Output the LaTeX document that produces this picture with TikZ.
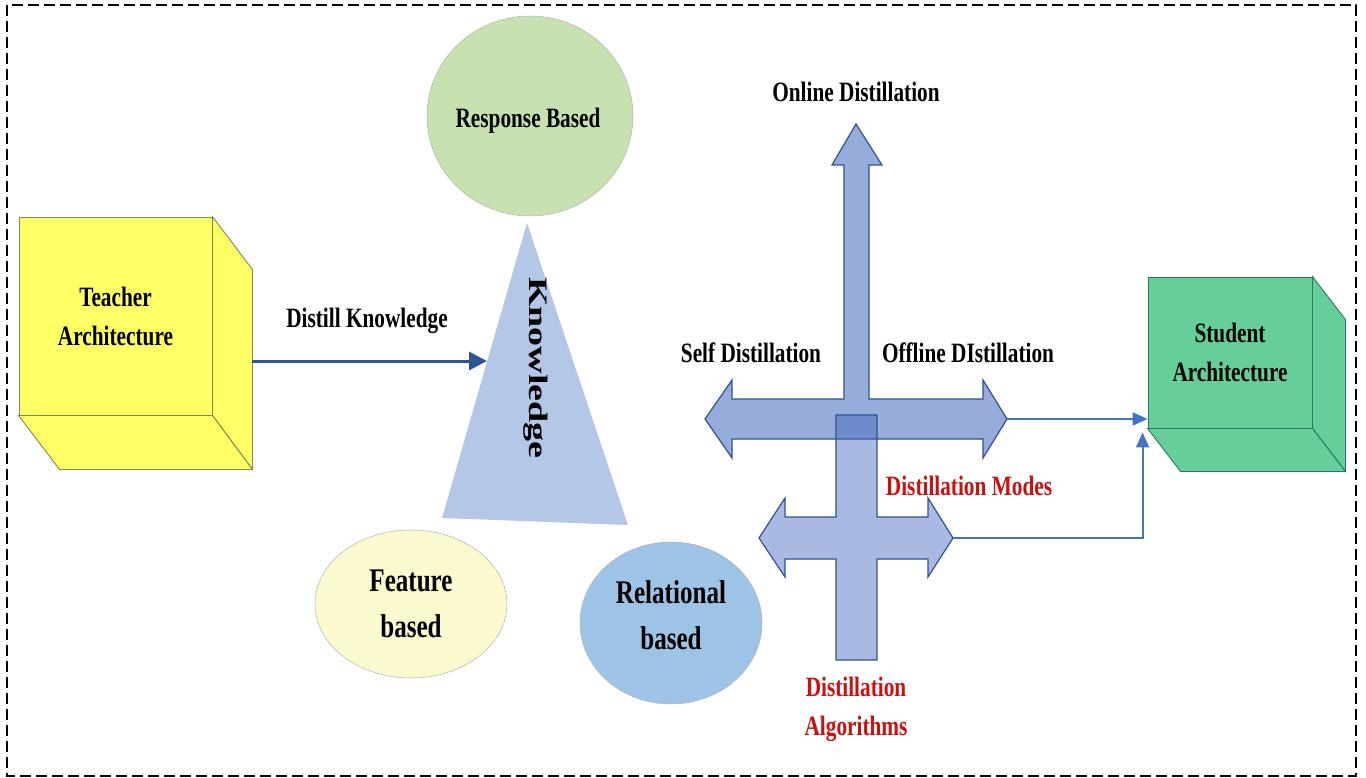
\documentclass[tikz,border=0pt]{standalone}
\usepackage{fontspec}
\setmainfont{Liberation Serif}[FakeStretch=0.76]
\newfontfamily\kfont{Liberation Serif}
\usetikzlibrary{arrows.meta,shapes.geometric}
\definecolor{tyellow}{RGB}{255,255,102}
\definecolor{tyedge}{RGB}{120,140,80}
\definecolor{sgreen}{RGB}{102,206,153}
\definecolor{sgedge}{RGB}{40,120,100}
\definecolor{respg}{RGB}{199,226,176}
\definecolor{featy}{RGB}{250,250,206}
\definecolor{relb}{RGB}{157,195,230}
\definecolor{trib}{RGB}{180,199,231}
\definecolor{crossA}{RGB}{150,172,218}
\definecolor{crossB}{RGB}{66,99,188}
\definecolor{crossedge}{RGB}{47,82,143}
\definecolor{darrow}{RGB}{47,85,151}
\definecolor{conncol}{RGB}{68,114,196}
\definecolor{dred}{RGB}{204,16,16}
\tikzset{
  lbl/.style={font=\bfseries\fontsize{28}{39}\selectfont, align=center, inner sep=0pt},
  biglbl/.style={font=\bfseries\fontsize{33}{46}\selectfont, align=center, inner sep=0pt},
  redlbl/.style={lbl, text=dred},
  cubeY/.style={draw=tyedge, fill=tyellow, line width=0.9pt, lbl},
  cubeYface/.style={draw=tyedge, fill=tyellow, line width=0.9pt},
  cubeG/.style={draw=sgedge, fill=sgreen, line width=0.9pt, lbl},
  cubeGface/.style={draw=sgedge, fill=sgreen, line width=0.9pt},
  blob/.style={ellipse, inner sep=0pt, draw=gray!60, line width=0.5pt},
  crossshape/.style={draw=crossedge, line width=1.2pt, line join=miter},
  mainarrow/.style={draw=darrow, line width=3pt, -{Triangle[length=18pt,width=18pt]}},
  conn/.style={draw=conncol, line width=2pt, -{Triangle[length=15pt,width=13pt]}}
}
\begin{document}
\begin{tikzpicture}[x=1pt,y=-1pt]
\useasboundingbox (0,0) rectangle (1366,778);
\draw[line width=2.6pt, dash pattern=on 11pt off 5pt] (7,5) rectangle (1356,776);

% Teacher cube
\node[cubeY, minimum width=193pt, minimum height=198pt] (teacher) at (115.5,316) {Teacher\\Architecture};
\filldraw[cubeYface] (teacher.north east) -- ([shift={(40,53)}]teacher.north east) -- ([shift={(40,54)}]teacher.south east) -- (teacher.south east) -- cycle;
\filldraw[cubeYface] (teacher.south west) -- ([shift={(41,54)}]teacher.south west) -- ([shift={(40,54)}]teacher.south east) -- (teacher.south east) -- cycle;

% Response circle
\node[blob, fill=respg, minimum width=206pt, minimum height=200pt] (resp) at (530,116) {};
\node[lbl] (resptxt) at (528,121) {Response Based};

% Knowledge triangle
\fill[trib] (527,223) -- (628,525) -- (442,518) -- cycle;
\node[rotate=-90, inner sep=0pt, font=\kfont\bfseries\fontsize{38}{38}\selectfont] (know) at (536,368) {\scalebox{1}[0.7]{Knowledge}};

% Feature / Relational
\node[blob, fill=featy, minimum width=192pt, minimum height=148pt, biglbl] (feat) at (411,604) {Feature\\based};
\node[blob, fill=relb, minimum width=182pt, minimum height=162pt] (rel) at (671,623) {};
\node[biglbl] (reltxt) at (671,615) {Relational\\based};

% Distill arrow
\coordinate (tout) at (252,361);
\coordinate (tin) at (487,361);
\draw[mainarrow] (tout) -- (tin);
\node[lbl] (distill) at (367,321) {Distill Knowledge};

% Upper cross (modes)
\fill[crossA] (856,124) -- (882,165) -- (869,165) -- (869,399) -- (983,399) -- (983,380) -- (1007,419) -- (983,458) -- (983,439) -- (732,439) -- (732,458) -- (705,419) -- (732,380) -- (732,399) -- (844,399) -- (844,165) -- (832,165) -- cycle;
\draw[crossshape] (856,124) -- (882,165) -- (869,165) -- (869,399) -- (983,399) -- (983,380) -- (1007,419) -- (983,458) -- (983,439) -- (732,439) -- (732,458) -- (705,419) -- (732,380) -- (732,399) -- (844,399) -- (844,165) -- (832,165) -- cycle;

% Lower cross (algorithms)
\fill[crossB, fill opacity=0.45] (836,415) -- (877,415) -- (877,517) -- (928,517) -- (928,498) -- (953,538) -- (928,577) -- (928,559) -- (877,559) -- (877,660) -- (836,660) -- (836,559) -- (785,559) -- (785,577) -- (759,538) -- (785,498) -- (785,517) -- (836,517) -- cycle;
\draw[crossshape] (836,415) -- (877,415) -- (877,517) -- (928,517) -- (928,498) -- (953,538) -- (928,577) -- (928,559) -- (877,559) -- (877,660) -- (836,660) -- (836,559) -- (785,559) -- (785,577) -- (759,538) -- (785,498) -- (785,517) -- (836,517) -- cycle;

\node[lbl] (online) at (856,92) {Online Distillation};
\node[lbl] (self) at (751,353) {Self Distillation};
\node[lbl] (offline) at (968,353) {Offline DIstillation};
\node[redlbl] (modes) at (969,486) {Distillation Modes};
\node[redlbl] (algos) at (856,709) {Distillation\\Algorithms};

% Student cube
\node[cubeG, minimum width=164pt, minimum height=151pt] (student) at (1230,352.5) {Student\\Architecture};
\filldraw[cubeGface] (student.north east) -- ([shift={(33,43)}]student.north east) -- ([shift={(33,43)}]student.south east) -- (student.south east) -- cycle;
\filldraw[cubeGface] (student.south west) -- ([shift={(33,43)}]student.south west) -- ([shift={(33,43)}]student.south east) -- (student.south east) -- cycle;

% Connectors to student
\coordinate (uR) at (1007,419);
\coordinate (lR) at (953,538);
\draw[conn] (uR) -- (uR -| student.west);
\draw[conn] (lR) -| ([shift={(-5,4)}]student.south west);
\end{tikzpicture}
\end{document}
